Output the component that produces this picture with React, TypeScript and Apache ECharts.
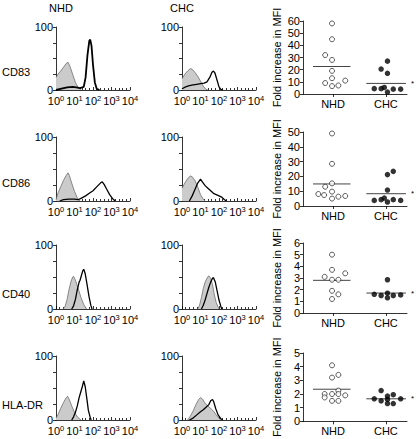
import React, { useEffect, useRef } from 'react';
import * as echarts from 'echarts';

// ---------- Data ----------
const rowNames = ['CD83', 'CD86', 'CD40', 'HLA-DR'];
const groupNames = ['NHD', 'CHC'];
const histTickLabels = [0, 1, 2, 3, 4]; // exponents of 10
const yTitle = 'Fold increase in MFI';

// Histograms: [log10 fluorescence, % of max]
const cd83NhdIso = [[0, 20], [0.1, 25], [0.25, 30], [0.4, 36], [0.55, 42], [0.65, 44], [0.75, 38], [0.9, 25], [1.05, 12], [1.2, 4], [1.35, 0]];
const cd83NhdStim = [[0, 0], [0.3, 2], [0.6, 4], [0.9, 5], [1.1, 4], [1.3, 3], [1.5, 5], [1.6, 20], [1.7, 55], [1.8, 78], [1.85, 80], [1.92, 70], [2.0, 40], [2.1, 12], [2.2, 2], [2.35, 0]];
const cd83ChcIso = [[0, 18], [0.15, 25], [0.3, 30], [0.45, 34], [0.55, 33], [0.7, 28], [0.85, 22], [1.0, 14], [1.15, 6], [1.3, 1], [1.4, 0]];
const cd83ChcStim = [[0, 2], [0.2, 5], [0.4, 7], [0.6, 8], [0.8, 9], [1.0, 10], [1.2, 11], [1.35, 13], [1.5, 20], [1.62, 28], [1.7, 30], [1.78, 27], [1.9, 15], [2.0, 5], [2.1, 1], [2.2, 0]];

const cd86NhdIso = [[0, 2], [0.1, 12], [0.25, 22], [0.4, 32], [0.55, 40], [0.65, 44], [0.72, 40], [0.85, 28], [1.0, 15], [1.15, 5], [1.3, 0]];
const cd86NhdStim = [[0.2, 0], [0.4, 2], [0.7, 3], [1.0, 3], [1.2, 2], [1.4, 5], [1.6, 8], [1.8, 12], [2.0, 16], [2.2, 22], [2.4, 28], [2.5, 30], [2.6, 26], [2.75, 18], [2.9, 10], [3.05, 4], [3.2, 0]];
const cd86ChcIso = [[0, 20], [0.15, 28], [0.3, 35], [0.45, 39], [0.55, 38], [0.7, 32], [0.85, 22], [1.0, 10], [1.15, 3], [1.25, 0]];
const cd86ChcStim = [[0.4, 0], [0.55, 8], [0.7, 18], [0.85, 28], [1.0, 34], [1.1, 30], [1.25, 24], [1.4, 20], [1.55, 16], [1.7, 12], [1.85, 10], [2.0, 8], [2.15, 6], [2.3, 2], [2.4, 0]];

const cd40NhdIso = [[0.4, 0], [0.5, 5], [0.6, 15], [0.7, 30], [0.8, 42], [0.9, 50], [0.95, 51], [1.05, 45], [1.2, 32], [1.35, 18], [1.5, 7], [1.65, 0]];
const cd40NhdStim = [[0.85, 0], [0.95, 5], [1.05, 15], [1.15, 30], [1.25, 42], [1.3, 45], [1.35, 50], [1.45, 60], [1.5, 62], [1.58, 55], [1.68, 38], [1.78, 20], [1.88, 6], [1.95, 0]];
const cd40ChcIso = [[0.85, 0], [0.95, 6], [1.05, 18], [1.15, 32], [1.25, 42], [1.35, 48], [1.45, 52], [1.55, 48], [1.65, 38], [1.75, 22], [1.85, 10], [2.0, 0]];
const cd40ChcStim = [[1.05, 0], [1.15, 6], [1.25, 14], [1.35, 24], [1.45, 34], [1.55, 42], [1.65, 48], [1.7, 49], [1.8, 42], [1.9, 28], [2.0, 14], [2.1, 4], [2.15, 0]];

const hlaNhdIso = [[0, 3], [0.1, 8], [0.25, 18], [0.4, 27], [0.55, 35], [0.63, 37], [0.72, 32], [0.85, 22], [1.0, 12], [1.15, 5], [1.35, 0]];
const hlaNhdStim = [[0.85, 0], [0.95, 5], [1.05, 12], [1.15, 22], [1.25, 35], [1.35, 45], [1.42, 52], [1.5, 61], [1.58, 52], [1.66, 35], [1.75, 15], [1.85, 4], [1.9, 0]];
const hlaChcIso = [[0.3, 0], [0.45, 6], [0.6, 14], [0.75, 24], [0.9, 32], [1.0, 35], [1.1, 33], [1.25, 26], [1.4, 22], [1.55, 18], [1.7, 14], [1.85, 8], [2.0, 3], [2.1, 0]];
const hlaChcStim = [[0.4, 0], [0.6, 3], [0.8, 8], [1.0, 13], [1.15, 16], [1.3, 20], [1.45, 24], [1.55, 30], [1.65, 32], [1.72, 28], [1.82, 18], [1.95, 8], [2.1, 2], [2.2, 0]];

// Fold increase in MFI (values) and their horizontal placement in the dot plots
const cd83Nhd = [58, 45, 32, 28, 19, 13, 11, 9, 7, 6.5];
const cd83NhdX = [0.98, 0.98, 0.85, 0.98, 0.98, 0.98, 1.23, 0.85, 1.1, 0.98];
const cd83Chc = [27, 20.5, 17, 4.4, 4.4, 5.4, 1.6, 4, 4];
const cd83ChcX = [2.03, 1.91, 2.03, 1.78, 1.91, 1.97, 2.03, 2.14, 2.28];
const cd83Means = [22.6, 8.7];

const cd86Nhd = [49, 28.5, 15.3, 13, 9.7, 8.1, 7.4, 5, 6.3, 6.8];
const cd86NhdX = [0.98, 0.98, 0.98, 0.85, 0.98, 0.72, 0.83, 0.98, 1.1, 1.23];
const cd86Chc = [23.4, 21.2, 10.8, 3.8, 4.3, 5.4, 2.7, 4.3, 3.8];
const cd86ChcX = [2.14, 2.03, 2.03, 1.78, 1.91, 1.97, 2.03, 2.14, 2.28];
const cd86Means = [14.9, 8.3];

const cd40Nhd = [5.0, 3.7, 3.4, 3.1, 2.85, 2.85, 1.9, 1.6, 1.2];
const cd40NhdX = [0.98, 0.98, 1.23, 0.84, 0.98, 1.1, 0.98, 1.1, 0.98];
const cd40Chc = [2.85, 1.6, 1.5, 1.7, 1.3, 1.5, 1.55];
const cd40ChcX = [2.03, 1.78, 1.91, 2.03, 2.03, 2.14, 2.28];
const cd40Means = [2.8, 1.71];

const hlaNhd = [4.1, 3.4, 3.2, 2.25, 2.0, 1.75, 2.0, 2.0, 1.9, 1.5, 1.5];
const hlaNhdX = [0.98, 1.1, 0.98, 1.1, 0.84, 0.84, 0.98, 1.1, 1.23, 0.98, 1.1];
const hlaChc = [2.25, 1.85, 1.95, 1.65, 1.5, 1.6, 1.3, 1.3, 1.65];
const hlaChcX = [1.91, 2.03, 2.14, 1.78, 1.91, 2.03, 2.03, 2.14, 2.28];
const hlaMeans = [2.35, 1.65];

const scatterMax = [60, 50, 6, 5];
const scatterStep = [10, 10, 1, 1];

// ---------- Layout ----------
const FONT = '"Liberation Sans", Arial, Helvetica, sans-serif';
const FS = 11;
const histTops = [27, 137, 245, 356];
const histHeights = [63, 64, 64, 64];
const histLefts = [56, 182];
const histWidth = 74;
const scatTops = [21, 132, 243, 353];
const scatHeights = [73, 74, 70, 71];
const scatLeft = 303;
const scatWidth = 104;
const rowLabelY = [72, 183, 294, 405];
const meanSpan = [[0.62, 1.33], [1.63, 2.38]];

const rows = [
  { hist: [[cd83NhdIso, cd83NhdStim], [cd83ChcIso, cd83ChcStim]], dots: [[cd83Nhd, cd83NhdX], [cd83Chc, cd83ChcX]], means: cd83Means },
  { hist: [[cd86NhdIso, cd86NhdStim], [cd86ChcIso, cd86ChcStim]], dots: [[cd86Nhd, cd86NhdX], [cd86Chc, cd86ChcX]], means: cd86Means },
  { hist: [[cd40NhdIso, cd40NhdStim], [cd40ChcIso, cd40ChcStim]], dots: [[cd40Nhd, cd40NhdX], [cd40Chc, cd40ChcX]], means: cd40Means },
  { hist: [[hlaNhdIso, hlaNhdStim], [hlaChcIso, hlaChcStim]], dots: [[hlaNhd, hlaNhdX], [hlaChc, hlaChcX]], means: hlaMeans },
];

function buildOption() {
  const grid: any[] = [];
  const xAxis: any[] = [];
  const yAxis: any[] = [];
  const series: any[] = [];
  const axisLine = { show: true, onZero: false, lineStyle: { color: '#000', width: 0.8 } };
  const tickStyle = { color: '#000', width: 0.8 };

  rows.forEach((row, r) => {
    // histograms
    row.hist.forEach((pair, g) => {
      const gi = grid.length;
      grid.push({ left: histLefts[g], top: histTops[r], width: histWidth, height: histHeights[r] });
      xAxis.push({
        gridIndex: gi, type: 'value', min: 0, max: 4, interval: 1,
        axisLine, splitLine: { show: false },
        axisTick: { show: true, inside: true, length: 3, lineStyle: tickStyle },
        minorTick: { show: true, splitNumber: 5, length: 2, lineStyle: tickStyle },
        axisLabel: {
          margin: 4, color: '#000',
          formatter: (v: number) => (histTickLabels.includes(v) ? `{b|10}{s|${v}}` : ''),
          rich: {
            b: { fontSize: FS, fontFamily: FONT, color: '#000' },
            s: { fontSize: 7.5, fontFamily: FONT, color: '#000', padding: [0, 0, 6, 0] },
          },
        },
      });
      yAxis.push({
        gridIndex: gi, type: 'value', min: 0, max: 100, interval: 25,
        axisLine, splitLine: { show: false },
        axisTick: { show: true, length: 3, lineStyle: tickStyle },
        axisLabel: {
          margin: 3, fontSize: FS, fontFamily: FONT, color: '#000',
          formatter: (v: number) => (v === 0 || v === 100 ? String(v) : ''),
        },
      });
      series.push({
        type: 'line', xAxisIndex: gi, yAxisIndex: gi, data: pair[0], symbol: 'none',
        lineStyle: { color: '#5e5e5e', width: 0.7 },
        areaStyle: { color: '#cbcbcb', opacity: 1 }, z: 2,
      });
      series.push({
        type: 'line', xAxisIndex: gi, yAxisIndex: gi, data: pair[1], symbol: 'none',
        lineStyle: { color: '#000', width: r === 0 && g === 0 ? 1.8 : 1.3 }, z: 3,
      });
    });

    // dot plot
    const gi = grid.length;
    grid.push({ left: scatLeft, top: scatTops[r], width: scatWidth, height: scatHeights[r] });
    xAxis.push({
      gridIndex: gi, type: 'value', min: 0.43, max: 2.4,
      axisLine, splitLine: { show: false },
      axisTick: { show: true, length: 3, customValues: [1, 2], lineStyle: tickStyle },
      axisLabel: {
        customValues: [1, 2], margin: 4, fontSize: FS, fontFamily: FONT, color: '#000',
        formatter: (v: number) => groupNames[Math.round(v) - 1],
      },
    });
    yAxis.push({
      gridIndex: gi, type: 'value', min: 0, max: scatterMax[r], interval: scatterStep[r],
      axisLine, splitLine: { show: false },
      axisTick: { show: true, length: 3, lineStyle: tickStyle },
      axisLabel: { margin: 3, fontSize: FS, fontFamily: FONT, color: '#000' },
      name: yTitle, nameLocation: 'middle', nameGap: 21, nameRotate: 90,
      nameTextStyle: { fontSize: FS, fontFamily: FONT, color: '#000' },
    });
    row.dots.forEach(([vals, xs], g) => {
      series.push({
        type: 'scatter', xAxisIndex: gi, yAxisIndex: gi,
        data: vals.map((v, i) => [xs[i], v]),
        symbol: 'circle', symbolSize: g === 0 ? 5 : 5.5,
        itemStyle: g === 0 ? { color: '#fff', borderColor: '#000', borderWidth: 0.8 } : { color: '#000' },
        z: 4,
      });
      series.push({
        type: 'line', xAxisIndex: gi, yAxisIndex: gi, symbol: 'none',
        data: [[meanSpan[g][0], row.means[g]], [meanSpan[g][1], row.means[g]]],
        lineStyle: { color: '#444', width: 1 }, z: 3,
        endLabel: g === 1 ? { show: true, formatter: '*', distance: 5, fontSize: 8, color: '#000', fontFamily: FONT } : undefined,
      });
    });
  });

  const graphic: any[] = [
    { type: 'text', style: { text: groupNames[0], x: 61, y: 8, textAlign: 'center', textVerticalAlign: 'middle', fontSize: FS, fontFamily: FONT, fill: '#000' } },
    { type: 'text', style: { text: groupNames[1], x: 182, y: 8, textAlign: 'center', textVerticalAlign: 'middle', fontSize: FS, fontFamily: FONT, fill: '#000' } },
    ...rowNames.map((n, i) => ({
      type: 'text', style: { text: n, x: 2, y: rowLabelY[i], textAlign: 'left', textVerticalAlign: 'middle', fontSize: FS, fontFamily: FONT, fill: '#000' },
    })),
  ];

  return { animation: false, backgroundColor: '#fff', grid, xAxis, yAxis, series, graphic };
}

export default function App() {
  const ref = useRef<HTMLDivElement>(null);
  useEffect(() => {
    if (!ref.current) return;
    const chart = echarts.init(ref.current, undefined, { renderer: 'svg' });
    chart.setOption(buildOption() as any);
    return () => chart.dispose();
  }, []);
  return <div ref={ref} style={{ position: 'fixed', left: 0, top: 0, width: 418, height: 439, background: '#fff' }} />;
}
